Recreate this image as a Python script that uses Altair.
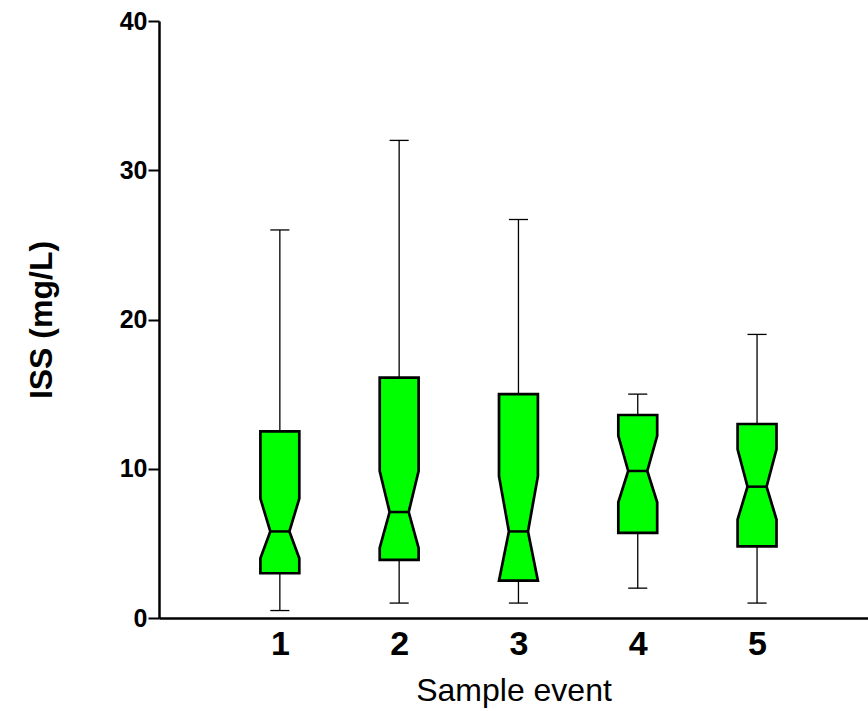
import altair as alt
import pandas as pd

# Box statistics
events = [1, 2, 3, 4, 5]
whisker_low = [0.5, 1.0, 1.0, 2.0, 1.0]
q1 = [3.0, 3.9, 2.5, 5.7, 4.8]
notch_low = [4.0, 4.7, 2.5, 7.75, 6.6]
median = [5.8, 7.1, 5.8, 9.85, 8.8]
notch_high = [8.0, 9.85, 9.5, 12.2, 11.3]
q3 = [12.5, 16.1, 15.0, 13.6, 13.0]
whisker_high = [26.0, 32.0, 26.7, 15.0, 19.0]

BOX_HALF = 0.163
NOTCH_HALF = 0.08
CAP_HALF = 0.08
FONT = "Liberation Sans"

# outline rows for notched boxes
rows = []
for i, e in enumerate(events):
    for k, (yv, hw) in enumerate([
        (q1[i], BOX_HALF),
        (notch_low[i], BOX_HALF),
        (median[i], NOTCH_HALF),
        (notch_high[i], BOX_HALF),
        (q3[i], BOX_HALF),
    ]):
        rows.append({"event": e, "k": k, "y": yv, "xl": e - hw, "xr": e + hw})
box_df = pd.DataFrame(rows)

stats = pd.DataFrame({
    "event": events,
    "wlo": whisker_low,
    "q1": q1,
    "med": median,
    "q3": q3,
    "whi": whisker_high,
})
stats["nl"] = stats["event"] - NOTCH_HALF
stats["nr"] = stats["event"] + NOTCH_HALF
stats["cl"] = stats["event"] - CAP_HALF
stats["cr"] = stats["event"] + CAP_HALF

xscale = alt.Scale(domain=[-0.013, 5.93], nice=False, zero=False)
yscale = alt.Scale(domain=[0, 40], nice=False)

xaxis = alt.Axis(
    values=events, format="d", ticks=False, grid=False,
    domainColor="black", domainWidth=2.5,
    labelFont=FONT, labelFontWeight="bold", labelFontSize=34, labelColor="black",
    labelPadding=9,
    title="Sample event", titleFont=FONT, titleFontWeight="normal", titleFontSize=32,
    titleColor="black", titleBaseline="alphabetic", titleY=82.5,
)
yaxis = alt.Axis(
    values=[0, 10, 20, 30, 40], grid=False,
    domainColor="black", domainWidth=2.5,
    tickColor="black", tickWidth=2, tickSize=11,
    labelFont=FONT, labelFontWeight="bold", labelFontSize=25, labelColor="black",
    labelPadding=1,
    title="ISS (mg/L)", titleFont=FONT, titleFontWeight="bold", titleFontSize=32,
    titleColor="black", titleAngle=270, titleAlign="center", titleBaseline="middle",
    titleX=-118, titleY=298.5,
)

base_x = alt.X("event:Q", scale=xscale, axis=xaxis)

whisk_lo = alt.Chart(stats).mark_rule(color="black", strokeWidth=1.3).encode(
    x=base_x,
    y=alt.Y("wlo:Q", scale=yscale, axis=yaxis),
    y2="q1:Q",
)
whisk_hi = alt.Chart(stats).mark_rule(color="black", strokeWidth=1.3).encode(
    x=alt.X("event:Q", scale=xscale),
    y=alt.Y("q3:Q", scale=yscale),
    y2="whi:Q",
)
cap_lo = alt.Chart(stats).mark_rule(color="black", strokeWidth=1.3).encode(
    x=alt.X("cl:Q", scale=xscale),
    x2="cr:Q",
    y=alt.Y("wlo:Q", scale=yscale),
)
cap_hi = alt.Chart(stats).mark_rule(color="black", strokeWidth=1.3).encode(
    x=alt.X("cl:Q", scale=xscale),
    x2="cr:Q",
    y=alt.Y("whi:Q", scale=yscale),
)
boxes = alt.Chart(box_df).mark_area(
    orient="horizontal", fill="#00ff00", fillOpacity=1,
    stroke="black", strokeWidth=2.7, strokeJoin="miter",
).encode(
    y=alt.Y("y:Q", scale=yscale),
    x=alt.X("xl:Q", scale=xscale, stack=None),
    x2="xr:Q",
    detail="event:N",
)
med_line = alt.Chart(stats).mark_rule(color="black", strokeWidth=2.5).encode(
    x=alt.X("nl:Q", scale=xscale),
    x2="nr:Q",
    y=alt.Y("med:Q", scale=yscale),
)

chart = alt.layer(whisk_lo, whisk_hi, cap_lo, cap_hi, boxes, med_line).properties(
    width=709, height=597,
    autosize=alt.AutoSizeParams(type="none"),
    padding={"left": 159, "top": 21, "right": 0, "bottom": 93},
    background="white",
).configure_view(stroke=None)

chart.save("out.html", embed_options={"renderer": "svg", "actions": False})
